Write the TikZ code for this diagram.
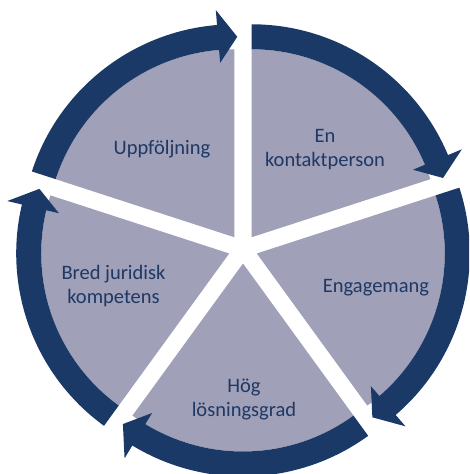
\documentclass[tikz,border=0pt]{standalone}
\usepackage{fontspec}
\setmainfont{Carlito}
\definecolor{segfill}{HTML}{A0A0B8}
\definecolor{ringblue}{HTML}{1B3966}
\definecolor{txtblue}{HTML}{1F3864}
\tikzset{lbl/.style={text=txtblue,font=\fontsize{20.5}{24}\selectfont,align=center,inner sep=0pt}}

\begin{document}
\begin{tikzpicture}[x=1pt,y=1pt]
    \clip (-243,-225) rectangle (226,249);
    % five slices, each pushed out a bit, with its arrow on the rim
    \foreach \a in {126,54,-18,-90,-162}{
        \begin{scope}[shift={(\a:14.5)}]
            \fill[segfill] (0,0) -- (\a+36:188) arc[start angle=\a+36,end angle=\a-36,radius=188] -- cycle;
            \fill[ringblue] (\a+36:188) arc[start angle=\a+36,end angle=\a-31.3,radius=188]
                -- (\a-31.3:175) -- (\a-36.8:200.5) -- (\a-31.3:228) -- (\a-31.3:213)
                arc[start angle=\a-31.3,end angle=\a+36,radius=213] -- cycle;
        \end{scope}
    }
    \node[lbl,anchor=base] (upp) at (-81,94) {Uppföljning};
    \node[lbl] (kontakt) at (82,99) {En\\kontaktperson};
    \node[lbl,anchor=base] (engag) at (133,-43) {Engagemang};
    \node[lbl] (hog) at (1,-150.5) {Hög\\lösningsgrad};
    \node[lbl] (bred) at (-129.5,-36.7) {Bred juridisk\\kompetens};
\end{tikzpicture}
\end{document}
